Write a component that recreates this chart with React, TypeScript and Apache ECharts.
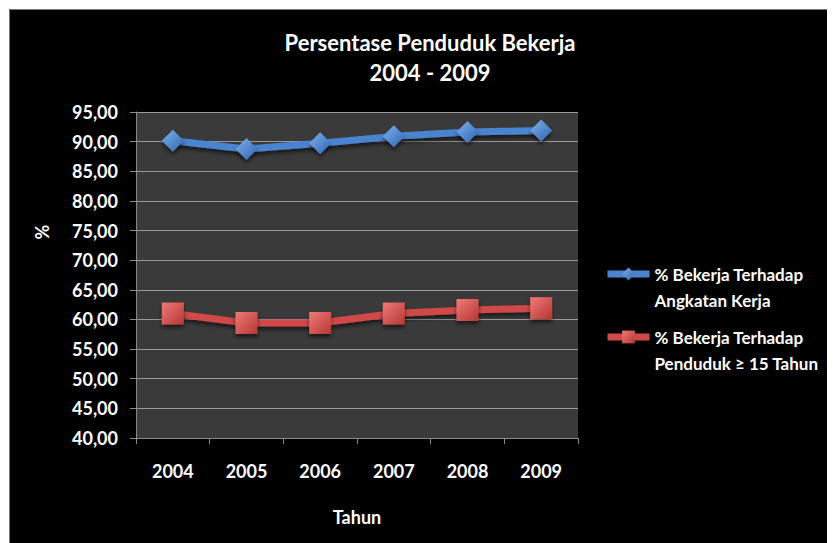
import React, { useEffect, useRef } from "react";
import * as echarts from "echarts";

const years = ["2004", "2005", "2006", "2007", "2008", "2009"];
const angkatanKerja = [90.14, 88.76, 89.72, 90.89, 91.61, 91.87];
const penduduk15 = [61.0, 59.4, 59.4, 61.0, 61.6, 61.9];
const seriesNames = [
  "% Bekerja Terhadap\nAngkatan Kerja",
  "% Bekerja Terhadap\nPenduduk \u2265 15 Tahun",
];
const yTitle = "%";

const FONT = "Lato, 'Open Sans', sans-serif";

const shadow = {
  shadowColor: "rgba(0,0,0,0.6)",
  shadowBlur: 4,
  shadowOffsetY: 3,
};

export default function App() {
  const ref = useRef<HTMLDivElement>(null);
  useEffect(() => {
    if (!ref.current) return;
    const chart = echarts.init(ref.current, null, { renderer: "svg" });
    chart.setOption({
      animation: false,
      backgroundColor: "#000",
      title: {
        text: "Persentase Penduduk Bekerja\n2004 - 2009",
        left: 416,
        textAlign: "center",
        top: 13,
        textStyle: {
          color: "#fff",
          fontFamily: FONT,
          fontWeight: "bold",
          fontSize: 22,
          lineHeight: 30,
        },
      },
      grid: {
        left: 127,
        top: 103,
        right: 257,
        bottom: 105,
        show: true,
        backgroundColor: "#3a3a3a",
        borderWidth: 0,
      },
      legend: {
        orient: "vertical",
        left: 590,
        top: 221,
        itemWidth: 42,
        itemHeight: 16,
        itemGap: -15,
        data: seriesNames,
        formatter: (name: string) => " \n" + name,
        lineStyle: { width: 7 },
        textStyle: {
          color: "#fff",
          fontFamily: FONT,
          fontSize: 17,
          fontWeight: "bold",
          lineHeight: 26,
        },
      },
      xAxis: {
        type: "category",
        data: years,
        boundaryGap: true,
        name: "Tahun",
        nameLocation: "middle",
        nameGap: 70,
        nameTextStyle: {
          color: "#fff",
          fontFamily: FONT,
          fontWeight: "bold",
          fontSize: 18,
        },
        axisLine: { lineStyle: { color: "#8a8a8a", width: 1 } },
        axisTick: { show: true, length: 6, lineStyle: { color: "#8a8a8a" } },
        axisLabel: {
          color: "#fff",
          fontFamily: FONT,
          fontWeight: "bold",
          fontSize: 18,
          margin: 24,
        },
        splitLine: { show: false },
      },
      yAxis: {
        type: "value",
        min: 40,
        max: 95,
        interval: 5,
        axisLine: { show: true, lineStyle: { color: "#8a8a8a", width: 1 } },
        axisTick: { show: true, length: 6, lineStyle: { color: "#8a8a8a" } },
        axisLabel: {
          color: "#fff",
          fontFamily: FONT,
          fontWeight: "bold",
          fontSize: 18,
          margin: 18,
          formatter: (v: number) => v.toFixed(2).replace(".", ","),
        },
        splitLine: { show: true, lineStyle: { color: "#9a9a9a", width: 1 } },
      },
      series: [
        {
          name: seriesNames[0],
          type: "line",
          data: angkatanKerja,
          symbol: "diamond",
          symbolSize: 22,
          lineStyle: { color: "#4a84d0", width: 7, ...shadow },
          itemStyle: {
            color: new echarts.graphic.LinearGradient(0, 0, 1, 1, [
              { offset: 0, color: "#80b2ee" },
              { offset: 1, color: "#2c64b0" },
            ]),
            borderWidth: 0,
            ...shadow,
          },
        },
        {
          name: seriesNames[1],
          type: "line",
          data: penduduk15,
          symbol: "rect",
          symbolSize: 22,
          lineStyle: { color: "#d04848", width: 7, ...shadow },
          itemStyle: {
            color: new echarts.graphic.LinearGradient(0, 0, 1, 1, [
              { offset: 0, color: "#f07a78" },
              { offset: 1, color: "#b53633" },
            ]),
            borderWidth: 0,
            ...shadow,
          },
        },
      ],
      graphic: [
        {
          type: "rect",
          shape: { x: 0.5, y: 0.5, width: 840, height: 540 },
          style: { fill: "none", stroke: "#777", lineWidth: 1 },
          silent: true,
        },
        {
          type: "text",
          x: 33,
          y: 223,
          rotation: Math.PI / 2,
          style: {
            text: yTitle,
            fill: "#fff",
            font: `bold 18px ${FONT}`,
            align: "center",
            verticalAlign: "middle",
          },
        },
      ],
    });
    return () => chart.dispose();
  }, []);
  return (
    <div style={{ background: "#fff" }}>
      <div
        ref={ref}
        style={{ width: 826, height: 534, marginLeft: 1, marginTop: 1 }}
      />
    </div>
  );
}
